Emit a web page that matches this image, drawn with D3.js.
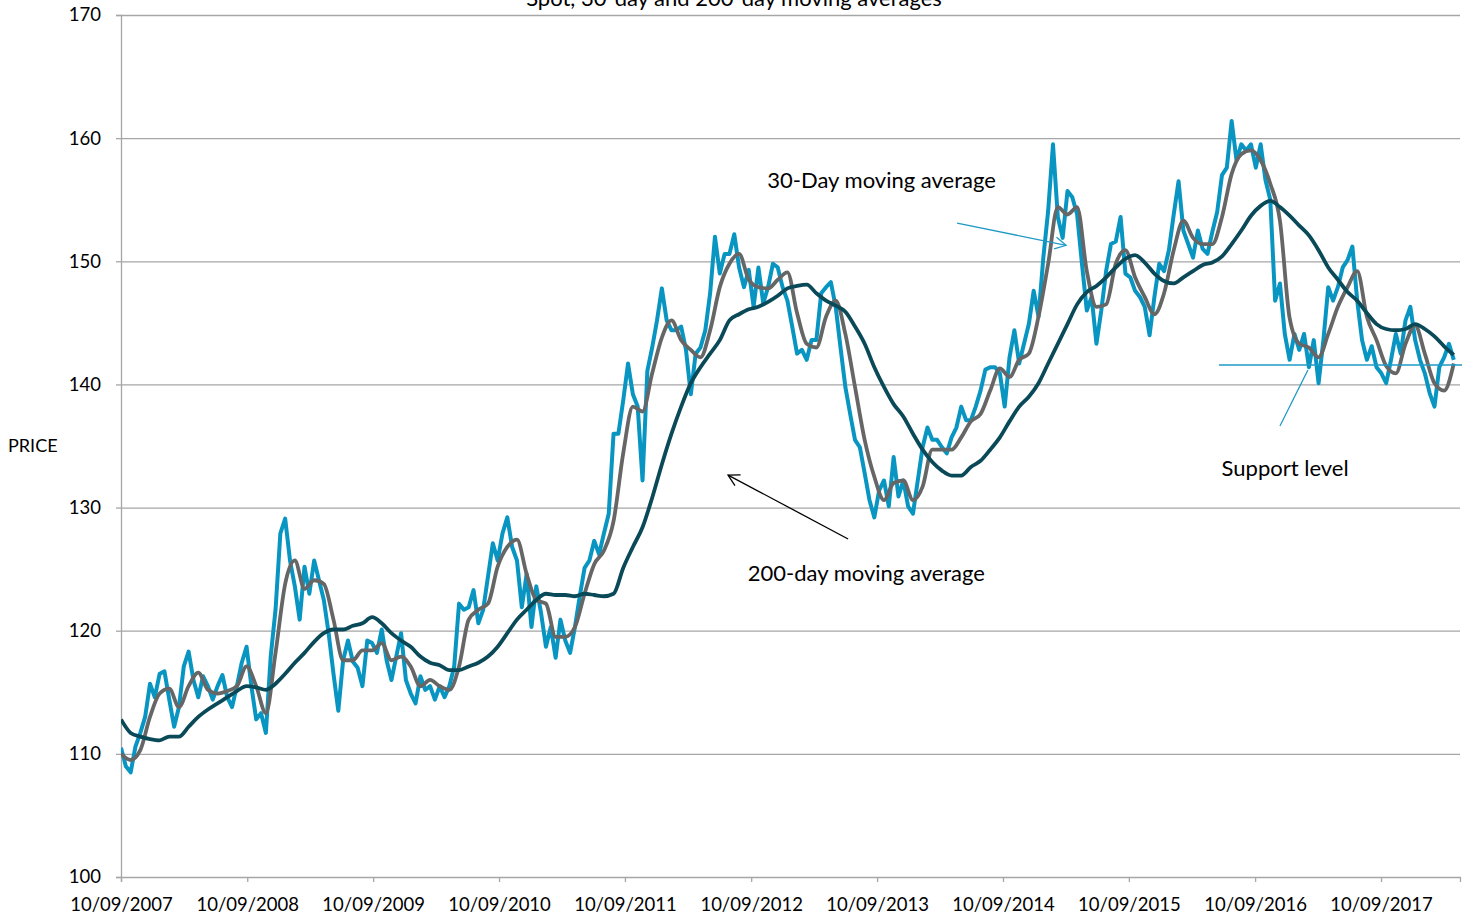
<!DOCTYPE html>
<html>
<head>
<meta charset="utf-8">
<script src="https://cdn.jsdelivr.net/npm/d3@7/dist/d3.min.js"></script>
<style>
  body { margin: 0; background: #fff; }
  svg { display: block; font-family: Lato, "Open Sans", sans-serif; }
</style>
</head>
<body>
<svg id="chart" width="1468" height="920"></svg>
<script>
// ---------------- data ----------------
const chartTitle = "Spot, 30-day and 200-day moving averages";
const yAxisTitle = "PRICE";
const yTicks = [100, 110, 120, 130, 140, 150, 160, 170];
const xTickDates = ["2007-09-10","2008-09-10","2009-09-10","2010-09-10","2011-09-10",
  "2012-09-10","2013-09-10","2014-09-10","2015-09-10","2016-09-10","2017-09-10"];
const startDate = "2007-09-10";
const endDate = "2018-04-27";
const spotStepDays = 14;   // spot sampled every 2 weeks
const maStepDays = 28;     // moving averages sampled every 4 weeks

const spot = [
110.5,109,108.5,110.6,111.7,113,115.7,114.6,116.5,116.7,
114.4,112.2,113.8,117.1,118.3,116,114.6,116.3,115.5,114.4,
115.5,116.4,114.6,113.8,115.5,117.4,118.7,115.5,112.8,113.3,
111.7,117.9,121.7,127.9,129.1,125.7,123.6,120.9,125.2,123,
125.7,124.1,122.5,119.8,116.5,113.5,117.6,119.2,117.5,117,
115.5,119.2,119,118.2,120.1,117.6,116,117.9,119.8,116,
114.9,114.1,116.3,115.2,115.5,114.4,115.5,114.6,115.5,117.1,
122.2,121.7,121.9,123.3,120.6,121.7,124.4,127.1,125.7,127.9,
129.2,126.8,125.7,121.9,124.6,120.3,123.6,121.4,118.7,120.3,
117.8,120.9,119.2,118.2,120.3,122.8,125.1,125.7,127.3,126.2,
127.9,129.5,136,136,138.7,141.7,139.2,138.2,132.2,141.1,
143,145.2,147.8,145.2,144.4,144.4,144.7,142.8,139.2,142.5,
143,144.4,147.4,152,149,150.6,150.6,152.2,149.5,147.9,
149.3,146.3,149.5,146.6,147.9,149.8,149.5,147.9,146.8,144.7,
142.5,142.8,142,143.6,143.6,147.4,147.9,148.3,146.3,143,
139.8,137.6,135.5,134.9,132.8,130.6,129.2,131.4,132.2,130.1,
134.1,130.9,132.2,130.1,129.5,132.2,134.9,136.5,135.5,135.5,
134.9,134.4,135.7,136.5,138.2,137.1,137.1,138.2,139.5,141.2,
141.4,141.4,140.9,138.2,142.2,144.4,141.7,143.3,144.9,147.6,
145.5,150.3,154.1,159.5,153.6,151.9,155.7,155.2,153.8,149.8,
146,147.1,143.3,146,149.2,151.4,151.6,153.6,149,148.7,
147.6,147.1,146.3,144,147.1,149.8,149.2,150.9,153.8,156.5,
152.5,151.4,150.3,152.5,151,150.6,152.4,154,157,157.6,
161.4,158.2,159.5,159,159.5,157.6,159.5,156.6,155,146.8,
148.2,144.1,142,144.1,142.8,144.1,141.4,143.6,140.1,143.6,
147.9,146.8,147.9,149.5,150.1,151.2,146.8,143.6,142,143.1,
141.4,140.9,140.1,142,144.1,142.5,145.2,146.3,143.6,142,
140.9,139.3,138.2,141.4,142.2,143.3,142
];

const ma30 = [
110,109.5,110.3,113,114.9,115.3,113.8,115.5,116.6,115.2,
114.9,115.1,115.5,117.1,115.5,113.3,118.2,123.8,125.7,123.4,
124.1,123.8,120.9,117.6,117.6,118.4,118.4,119,117.6,117.9,
117.1,115.5,116,115.5,115.2,117.1,120.9,121.7,122.2,125.2,
126.8,127.4,124.6,122.5,122.2,119.5,119.5,120.3,123,125.4,
126.5,128.9,134.4,138.2,137.8,140.9,143.8,145.2,143.6,142.8,
142.2,144.4,147.9,149.8,150.6,148.5,147.9,147.8,148.5,149.1,
145.8,143.3,143,145.5,146.8,144.1,139.8,135.5,132.5,130.6,
132,132.2,130.6,131.7,134.7,134.7,134.7,135.7,137,137.6,
139.5,141.3,140.6,142,142.5,145.5,149.8,154.4,153.8,154.4,
149.2,146.3,146.5,149.8,150.9,148.7,147.1,145.7,147.4,150.9,
153.3,151.9,151.4,151.4,153.6,157.1,158.7,159,158.2,156.3,
153.3,145.4,143.3,143,142.2,144.1,146.3,147.9,149.2,145.5,
143.6,141.5,140.9,143.3,144.8,142.5,140.1,139.5,141.7
];

const ma200 = [
112.8,111.7,111.4,111.2,111.1,111.4,111.4,112.2,113,113.6,
114.1,114.6,115.1,115.5,115.4,115.2,115.7,116.5,117.4,118.2,
119.1,119.8,120.1,120.1,120.4,120.6,121.1,120.6,119.8,119.2,
118.7,117.9,117.4,117.2,116.8,116.8,117.1,117.4,117.9,118.7,
119.8,120.9,121.7,122.5,123,122.9,122.9,122.8,123,122.9,
122.8,123,125.1,126.8,128.4,130.8,133.5,136,138.2,140.1,
141.4,142.5,143.6,145.2,145.7,146.1,146.3,146.7,147.2,147.8,
148,148.1,147.4,146.8,146.4,145.9,144.7,143.3,141.4,139.8,
138.4,137.4,136,134.7,133.7,133,132.6,132.6,133.3,133.8,
134.7,135.7,137,138.2,139,140.1,141.7,143.3,144.9,146.5,
147.5,148,148.7,149.5,150.2,150.5,149.9,149,148.4,148.2,
148.7,149.2,149.7,149.9,150.4,151.4,152.5,153.7,154.5,154.9,
154.4,153.7,152.9,152.1,150.9,149.5,148.5,147.5,146.8,145.8,
144.9,144.5,144.4,144.5,144.9,144.5,143.9,143.1,142.4
];

// annotations in data space: [date, value]
const label30 = { text: "30-Day moving average", at: ["2013-09-23", 155.95] };
const arrow30 = { from: ["2014-04-30", 153.1], to: ["2015-03-12", 151.3] };
const label200 = { text: "200-day moving average", at: ["2013-08-10", 124.04] };
const arrow200 = { from: ["2013-06-18", 127.45], to: ["2012-07-05", 132.64] };
const labelSupport = { text: "Support level", at: ["2016-12-06", 132.56] };
const supportLevel = { value: 141.58, from: "2016-05-28" };
const supportPointer = { from: ["2016-11-21", 136.62], to: ["2017-02-10", 141.17] };

// ---------------- layout ----------------
const W = 1468, H = 920;
const plot = { left: 121, right: 1460, top: 15, bottom: 877 };
const colors = { spot: "#0995c2", ma30: "#666666", ma200: "#0a4a58", grid: "#a6a6a6",
  support: "#1e9ac4", text: "#000" };
const tickFont = 18.5;
const annFont = 22;

const parse = d3.timeParse("%Y-%m-%d");
const svg = d3.select("#chart");

const x = d3.scaleTime()
  .domain([parse(startDate), parse(endDate)])
  .range([plot.left, plot.right]);
const y = d3.scaleLinear()
  .domain([100, 170])
  .range([plot.bottom, plot.top]);

const t0 = parse(startDate);
const spotData = spot.map((v, i) => ({ d: d3.timeDay.offset(t0, i * spotStepDays), v }));
const ma30Data = ma30.map((v, i) => ({ d: d3.timeDay.offset(t0, i * maStepDays), v }));
const ma200Data = ma200.map((v, i) => ({ d: d3.timeDay.offset(t0, i * maStepDays), v }));

// gridlines
svg.append("g")
  .attr("transform", `translate(${plot.left},0)`)
  .call(d3.axisLeft(y).tickValues(yTicks.slice(1)).tickSize(-(plot.right - plot.left)).tickFormat(""))
  .call(g => g.select(".domain").remove())
  .call(g => g.selectAll("line").attr("stroke", colors.grid).attr("stroke-width", 1.3));

// y axis
const yAxis = svg.append("g")
  .attr("transform", `translate(${plot.left},0)`)
  .call(d3.axisLeft(y).tickValues(yTicks).tickSize(5).tickPadding(15).tickFormat(d3.format("d")));
yAxis.select(".domain").attr("stroke", colors.grid).attr("stroke-width", 1.3);
yAxis.selectAll("line").attr("stroke", colors.grid).attr("stroke-width", 1.3);
yAxis.selectAll("text").attr("fill", colors.text).style("font-size", tickFont + "px")
  .style("font-family", "Lato, 'Open Sans', sans-serif");

// x axis
const xAxis = svg.append("g")
  .attr("transform", `translate(0,${plot.bottom})`)
  .call(d3.axisBottom(x).tickValues(xTickDates.map(parse)).tickSize(5).tickPadding(16)
    .tickFormat(d3.timeFormat("%d/%m/%Y")));
xAxis.select(".domain").attr("stroke", colors.grid).attr("stroke-width", 1.3);
xAxis.selectAll("line").attr("stroke", colors.grid).attr("stroke-width", 1.3);
xAxis.selectAll("text").attr("fill", colors.text).style("font-size", tickFont + "px")
  .style("font-family", "Lato, 'Open Sans', sans-serif");

// lines
const lineSpot = d3.line().x(d => x(d.d)).y(d => y(d.v)).curve(d3.curveLinear);
const lineMA = d3.line().x(d => x(d.d)).y(d => y(d.v)).curve(d3.curveMonotoneX);

svg.append("clipPath").attr("id", "plotclip").append("rect")
  .attr("x", plot.left).attr("y", plot.top - 5).attr("width", plot.right - plot.left + 4)
  .attr("height", plot.bottom - plot.top + 5);

const series = svg.append("g").attr("clip-path", "url(#plotclip)");
series.append("path").datum(spotData).attr("d", lineSpot)
  .attr("fill", "none").attr("stroke", colors.spot).attr("stroke-width", 4)
  .attr("stroke-linejoin", "round");
series.append("path").datum(ma30Data).attr("d", lineMA)
  .attr("fill", "none").attr("stroke", colors.ma30).attr("stroke-width", 3.8)
  .attr("stroke-linejoin", "round");
series.append("path").datum(ma200Data).attr("d", lineMA)
  .attr("fill", "none").attr("stroke", colors.ma200).attr("stroke-width", 3.8)
  .attr("stroke-linejoin", "round");

// arrow markers
const defs = svg.append("defs");
function marker(id, color) {
  defs.append("marker").attr("id", id)
    .attr("viewBox", "-12 -7 14 14").attr("refX", 0).attr("refY", 0)
    .attr("markerWidth", 14).attr("markerHeight", 14).attr("markerUnits", "userSpaceOnUse")
    .attr("orient", "auto")
    .append("path").attr("d", "M-11,-6 L0,0 L-11,6")
    .attr("fill", "none").attr("stroke", color).attr("stroke-width", 1.3);
}
marker("arrBlack", "#000");
marker("arrBlue", colors.support);

const P = p => [x(parse(p[0])), y(p[1])];
const ann = svg.append("g");

// 30-day annotation
let a = P(arrow30.from), b = P(arrow30.to);
ann.append("line").attr("x1", a[0]).attr("y1", a[1]).attr("x2", b[0]).attr("y2", b[1])
  .attr("stroke", colors.support).attr("stroke-width", 1.3).attr("marker-end", "url(#arrBlue)");
let l = P(label30.at);
ann.append("text").attr("x", l[0]).attr("y", l[1]).attr("text-anchor", "middle")
  .style("font-size", annFont + "px").text(label30.text);

// 200-day annotation
a = P(arrow200.from); b = P(arrow200.to);
ann.append("line").attr("x1", a[0]).attr("y1", a[1]).attr("x2", b[0]).attr("y2", b[1])
  .attr("stroke", "#000").attr("stroke-width", 1.3).attr("marker-end", "url(#arrBlack)");
l = P(label200.at);
ann.append("text").attr("x", l[0]).attr("y", l[1]).attr("text-anchor", "middle")
  .style("font-size", annFont + "px").text(label200.text);

// support level
ann.append("line")
  .attr("x1", x(parse(supportLevel.from))).attr("x2", plot.right + 2)
  .attr("y1", y(supportLevel.value)).attr("y2", y(supportLevel.value))
  .attr("stroke", colors.support).attr("stroke-width", 1.5);
a = P(supportPointer.from); b = P(supportPointer.to);
ann.append("line").attr("x1", a[0]).attr("y1", a[1]).attr("x2", b[0]).attr("y2", b[1])
  .attr("stroke", colors.support).attr("stroke-width", 1.3);
l = P(labelSupport.at);
ann.append("text").attr("x", l[0]).attr("y", l[1]).attr("text-anchor", "middle")
  .style("font-size", annFont + "px").text(labelSupport.text);

// titles (the reference shows the title partly cut off at the top edge)
svg.append("text").attr("x", W / 2).attr("y", 6).attr("text-anchor", "middle")
  .style("font-size", annFont + "px").text(chartTitle);
svg.append("text").attr("x", 8).attr("y", 452).style("font-size", "18px").text(yAxisTitle);
</script>
</body>
</html>
